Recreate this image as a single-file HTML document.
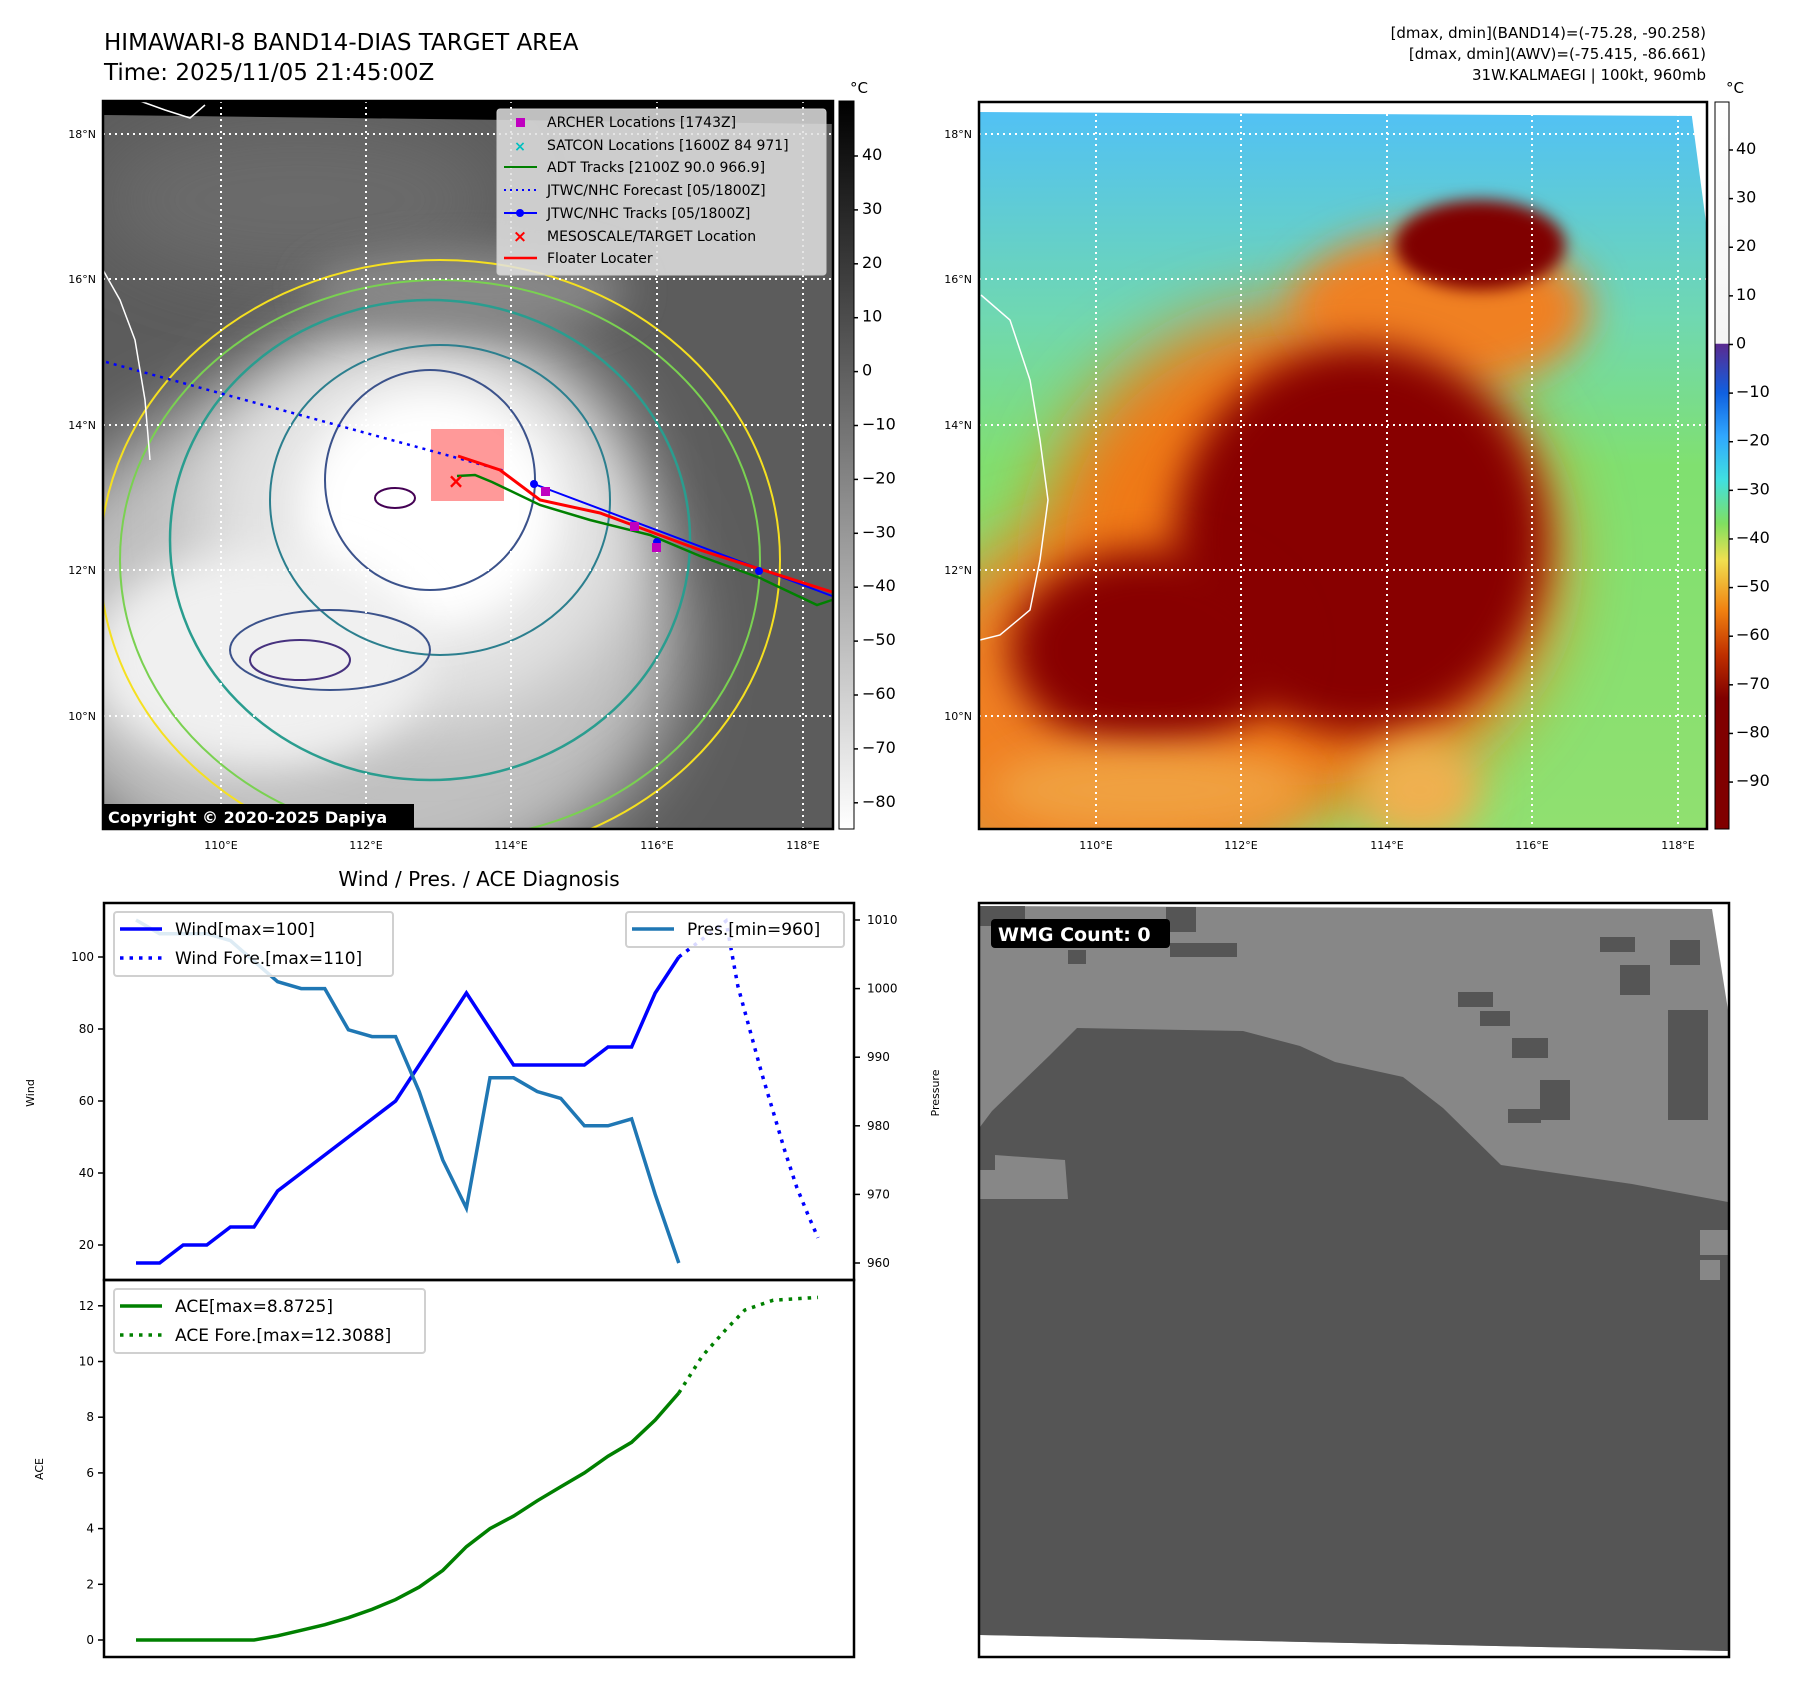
<!DOCTYPE html>
<html><head><meta charset="utf-8"><style>
html,body{margin:0;padding:0;background:#fff;}
svg{display:block;font-family:"DejaVu Sans","Liberation Sans",sans-serif;}
</style></head><body>
<svg id="fig" width="1797" height="1690" viewBox="0 0 1797 1690" xmlns="http://www.w3.org/2000/svg">
<defs>
<filter id="b20" x="-50%" y="-50%" width="200%" height="200%"><feGaussianBlur stdDeviation="20"/></filter>
<filter id="b35" x="-50%" y="-50%" width="200%" height="200%"><feGaussianBlur stdDeviation="35"/></filter>
<filter id="b8" x="-50%" y="-50%" width="200%" height="200%"><feGaussianBlur stdDeviation="8"/></filter>
<clipPath id="cl"><rect x="103" y="101" width="730" height="728"/></clipPath>
<clipPath id="cr"><rect x="979" y="102" width="728" height="727"/></clipPath>
<clipPath id="cw"><rect x="979" y="903" width="750" height="754"/></clipPath>
<linearGradient id="cbl" x1="0" y1="0" x2="0" y2="1"><stop offset="0" stop-color="#000"/><stop offset="1" stop-color="#fff"/></linearGradient>
<linearGradient id="cbr" x1="0" y1="0" x2="0" y2="1">
<stop offset="0" stop-color="#fff"/><stop offset="0.332" stop-color="#f4f4f4"/>
<stop offset="0.333" stop-color="#5a2a90"/><stop offset="0.40" stop-color="#1060e0"/>
<stop offset="0.46" stop-color="#30a8ff"/><stop offset="0.52" stop-color="#40e0e0"/>
<stop offset="0.58" stop-color="#80e060"/><stop offset="0.63" stop-color="#f0e050"/>
<stop offset="0.70" stop-color="#f08010"/><stop offset="0.76" stop-color="#c03000"/>
<stop offset="0.82" stop-color="#800000"/><stop offset="1" stop-color="#800000"/></linearGradient>
<linearGradient id="rbg" x1="0" y1="0" x2="0" y2="1"><stop offset="0" stop-color="#50c0f8"/><stop offset="0.3" stop-color="#70d8b0"/><stop offset="0.5" stop-color="#80e070"/><stop offset="1" stop-color="#90e070"/></linearGradient>
</defs>

<text x="104" y="50" font-size="23">HIMAWARI-8 BAND14-DIAS TARGET AREA</text>
<text x="104" y="80" font-size="23">Time: 2025/11/05 21:45:00Z</text>
<g font-size="15" text-anchor="end">
<text x="1706" y="38">[dmax, dmin](BAND14)=(-75.28, -90.258)</text>
<text x="1706" y="59">[dmax, dmin](AWV)=(-75.415, -86.661)</text>
<text x="1706" y="80">31W.KALMAEGI | 100kt, 960mb</text>
</g>

<!-- LEFT MAP -->
<g clip-path="url(#cl)">
<rect x="103" y="101" width="730" height="728" fill="#5c5c5c"/>
<ellipse cx="300" cy="200" rx="200" ry="80" fill="#6a6a6a" filter="url(#b35)"/>
<ellipse cx="350" cy="640" rx="330" ry="260" fill="#c0c0c0" filter="url(#b35)"/>
<ellipse cx="420" cy="520" rx="220" ry="200" fill="#e4e4e4" filter="url(#b35)"/>
<ellipse cx="430" cy="510" rx="130" ry="120" fill="#fff" filter="url(#b20)"/>
<ellipse cx="260" cy="660" rx="170" ry="110" fill="#f0f0f0" filter="url(#b20)"/>
<ellipse cx="470" cy="290" rx="160" ry="40" fill="#888" filter="url(#b20)"/>
<polygon points="103,101 833,101 833,124 103,115" fill="#000"/>
<g fill="none" stroke-width="2">
<ellipse cx="440" cy="560" rx="340" ry="300" stroke="#f5e020"/>
<ellipse cx="440" cy="560" rx="320" ry="280" stroke="#7ad151"/>
<ellipse cx="430" cy="540" rx="260" ry="240" stroke="#2a9d8f" stroke-width="2.5"/>
<ellipse cx="440" cy="500" rx="170" ry="155" stroke="#2c7f8e"/>
<ellipse cx="430" cy="480" rx="105" ry="110" stroke="#3b528b"/>
<ellipse cx="330" cy="650" rx="100" ry="40" stroke="#3b528b"/>
<ellipse cx="300" cy="660" rx="50" ry="20" stroke="#46317e"/>
<ellipse cx="395" cy="498" rx="20" ry="10" stroke="#440154"/>
</g>
<g stroke="#fff" stroke-width="2" stroke-dasharray="2,4">
<line x1="221" y1="101" x2="221" y2="829"/><line x1="366" y1="101" x2="366" y2="829"/><line x1="511" y1="101" x2="511" y2="829"/><line x1="657" y1="101" x2="657" y2="829"/><line x1="803" y1="101" x2="803" y2="829"/>
<line x1="103" y1="134" x2="833" y2="134"/><line x1="103" y1="279" x2="833" y2="279"/><line x1="103" y1="425" x2="833" y2="425"/><line x1="103" y1="570" x2="833" y2="570"/><line x1="103" y1="716" x2="833" y2="716"/>
</g>
<rect x="431" y="429" width="73" height="72" fill="#ff8080" opacity="0.8"/>
<polyline points="106,362 505,471" fill="none" stroke="#00f" stroke-width="2.5" stroke-dasharray="3,5"/>
<polyline points="457,476 475,475 492,482 540,505 590,520 650,535 700,556 760,578 817,605 832,600" fill="none" stroke="#008000" stroke-width="2.5"/>
<polyline points="534,484 832,596" fill="none" stroke="#00f" stroke-width="2"/>
<polyline points="458,456 500,470 540,500 600,513 700,550 832,592" fill="none" stroke="#f00" stroke-width="3"/>
<circle cx="534" cy="484" r="4" fill="#00f"/><circle cx="657" cy="542" r="4" fill="#00f"/><circle cx="759" cy="571" r="4" fill="#00f"/>
<rect x="541" y="487" width="9" height="9" fill="#c000c0"/><rect x="630" y="522" width="9" height="9" fill="#c000c0"/><rect x="652" y="543" width="9" height="9" fill="#c000c0"/>
<text x="456" y="488" fill="#f00" font-size="20" font-weight="bold" text-anchor="middle">×</text>
<path d="M140,101 L165,110 L190,118 L205,105 M103,270 L120,300 L135,340 L145,400 L150,460" stroke="#fff" stroke-width="1.5" fill="none"/>
</g>
<rect x="103" y="101" width="730" height="728" fill="none" stroke="#000" stroke-width="2.5"/>
<g>
<rect x="497" y="109" width="329" height="166" rx="3" fill="#e0e0e0" fill-opacity="0.85" stroke="#ccc"/>
<rect x="516" y="118" width="9" height="9" fill="#c000c0"/>
<text x="520" y="151" fill="#00c0c0" font-size="14" font-weight="bold" text-anchor="middle">×</text>
<line x1="504" y1="167" x2="537" y2="167" stroke="#008000" stroke-width="2"/>
<line x1="504" y1="190" x2="537" y2="190" stroke="#00f" stroke-width="2" stroke-dasharray="2,4"/>
<line x1="504" y1="213" x2="537" y2="213" stroke="#00f" stroke-width="2"/><circle cx="520" cy="213" r="4" fill="#00f"/>
<text x="520" y="242" fill="#f00" font-size="17" font-weight="bold" text-anchor="middle">×</text>
<line x1="504" y1="258" x2="537" y2="258" stroke="#f00" stroke-width="2.5"/>
<g font-size="14">
<text x="547" y="127">ARCHER Locations [1743Z]</text>
<text x="547" y="150">SATCON Locations [1600Z 84 971]</text>
<text x="547" y="172">ADT Tracks [2100Z 90.0 966.9]</text>
<text x="547" y="195">JTWC/NHC Forecast [05/1800Z]</text>
<text x="547" y="218">JTWC/NHC Tracks [05/1800Z]</text>
<text x="547" y="241">MESOSCALE/TARGET Location</text>
<text x="547" y="263">Floater Locater</text>
</g></g>
<rect x="103" y="804" width="311" height="25" fill="#000"/>
<text x="108" y="823" fill="#fff" font-size="16" font-weight="bold">Copyright © 2020-2025 Dapiya</text>
<g font-size="11" text-anchor="end">
<text x="96" y="138">18°N</text><text x="96" y="283">16°N</text><text x="96" y="429">14°N</text><text x="96" y="574">12°N</text><text x="96" y="720">10°N</text></g>
<g font-size="11" text-anchor="middle">
<text x="221" y="849">110°E</text><text x="366" y="849">112°E</text><text x="511" y="849">114°E</text><text x="657" y="849">116°E</text><text x="803" y="849">118°E</text></g>
<rect x="839" y="101" width="15" height="728" fill="url(#cbl)" stroke="#000"/>
<text x="850" y="93" font-size="15">°C</text>
<g id="cbLticks" font-size="15"></g>

<!-- RIGHT MAP -->
<g clip-path="url(#cr)">
<rect x="979" y="102" width="728" height="727" fill="url(#rbg)"/>
<ellipse cx="1100" cy="720" rx="210" ry="190" fill="#f08020" filter="url(#b35)"/>
<ellipse cx="1300" cy="560" rx="260" ry="250" fill="#f07818" filter="url(#b35)"/>
<ellipse cx="1440" cy="310" rx="150" ry="80" fill="#f08020" filter="url(#b20)"/>
<ellipse cx="1480" cy="245" rx="85" ry="45" fill="#800000" filter="url(#b8)"/>
<ellipse cx="1360" cy="540" rx="185" ry="195" fill="#880000" filter="url(#b20)"/>
<ellipse cx="1150" cy="650" rx="140" ry="100" fill="#880000" filter="url(#b20)"/>
<ellipse cx="1150" cy="790" rx="160" ry="45" fill="#f0a040" filter="url(#b20)"/>
<ellipse cx="1420" cy="790" rx="60" ry="50" fill="#f0b050" filter="url(#b20)"/>
<polygon points="979,102 1707,102 1707,116 979,112" fill="#fff"/>
<polygon points="1690,102 1707,102 1707,230" fill="#fff"/>
<g stroke="#fff" stroke-width="2" stroke-dasharray="2,4">
<line x1="1096" y1="102" x2="1096" y2="829"/><line x1="1241" y1="102" x2="1241" y2="829"/><line x1="1387" y1="102" x2="1387" y2="829"/><line x1="1532" y1="102" x2="1532" y2="829"/><line x1="1678" y1="102" x2="1678" y2="829"/>
<line x1="979" y1="134" x2="1707" y2="134"/><line x1="979" y1="279" x2="1707" y2="279"/><line x1="979" y1="425" x2="1707" y2="425"/><line x1="979" y1="570" x2="1707" y2="570"/><line x1="979" y1="716" x2="1707" y2="716"/>
</g>
<path d="M981,295 L1010,320 L1030,380 L1040,440 L1048,500 L1040,560 L1030,610 L1000,635 L980,640" stroke="#fff" stroke-width="1.5" fill="none"/>
</g>
<rect x="979" y="102" width="728" height="727" fill="none" stroke="#000" stroke-width="2.5"/>
<g font-size="11" text-anchor="end">
<text x="972" y="138">18°N</text><text x="972" y="283">16°N</text><text x="972" y="429">14°N</text><text x="972" y="574">12°N</text><text x="972" y="720">10°N</text></g>
<g font-size="11" text-anchor="middle">
<text x="1096" y="849">110°E</text><text x="1241" y="849">112°E</text><text x="1387" y="849">114°E</text><text x="1532" y="849">116°E</text><text x="1678" y="849">118°E</text></g>
<rect x="1715" y="102" width="14" height="727" fill="url(#cbr)" stroke="#000"/>
<text x="1726" y="93" font-size="15">°C</text>
<g id="cbRticks" font-size="15"></g>

<!-- WMG panel -->
<g clip-path="url(#cw)">
<rect x="979" y="903" width="750" height="754" fill="#fff"/>
<polygon points="980,906 1712,909 1728,1010 1728,1651 980,1635" fill="#878787"/>
<polygon points="980,1127 992,1111 1049,1056 1077,1028 1243,1031 1300,1046 1335,1062 1403,1077 1443,1108 1501,1165 1632,1184 1728,1202 1728,1651 980,1635 980,1199 1068,1199 1065,1160 995,1155 995,1170 980,1170" fill="#555"/>
<rect x="980" y="906" width="45" height="20" fill="#555"/><rect x="1166" y="907" width="30" height="25" fill="#555"/><rect x="1170" y="943" width="67" height="14" fill="#555"/><rect x="1068" y="950" width="18" height="14" fill="#555"/>
<rect x="1458" y="992" width="35" height="15" fill="#555"/><rect x="1480" y="1011" width="30" height="15" fill="#555"/><rect x="1512" y="1038" width="36" height="20" fill="#555"/>
<rect x="1600" y="937" width="35" height="15" fill="#555"/><rect x="1620" y="965" width="30" height="30" fill="#555"/><rect x="1670" y="940" width="30" height="25" fill="#555"/><rect x="1668" y="1010" width="40" height="110" fill="#555"/>
<rect x="1508" y="1109" width="33" height="14" fill="#555"/><rect x="1540" y="1080" width="30" height="40" fill="#555"/>
<rect x="1700" y="1230" width="28" height="25" fill="#878787"/><rect x="1700" y="1260" width="20" height="20" fill="#878787"/>
<rect x="991" y="919" width="179" height="29" rx="4" fill="#000"/>
<text x="998" y="941" fill="#fff" font-size="19" font-weight="bold">WMG Count: 0</text>
</g>
<rect x="979" y="903" width="750" height="754" fill="none" stroke="#000" stroke-width="2.5"/>

<text x="479" y="886" font-size="20" text-anchor="middle">Wind / Pres. / ACE Diagnosis</text>
<g id="chart"></g>
<rect x="104" y="903" width="750" height="377" fill="none" stroke="#000" stroke-width="2.5"/>
<rect x="104" y="1280" width="750" height="377" fill="none" stroke="#000" stroke-width="2.5"/>
<text transform="translate(34,1093) rotate(-90)" font-size="11" text-anchor="middle">Wind</text>
<text transform="translate(43,1469) rotate(-90)" font-size="11" text-anchor="middle">ACE</text>
<text transform="translate(939,1093) rotate(-90)" font-size="11" text-anchor="middle">Pressure</text>
</svg>
<script>
const windIdx = [0,1,2,3,4,5,6,7,8,9,10,11,12,13,14,15,16,17,18,19,20,21,22,23];
const windVals = [15,15,20,20,25,25,35,40,45,50,55,60,70,80,90,80,70,70,70,70,75,75,90,100];
const windForeIdx = [23,25,25.5,26,26.5,27,27.5,28,28.5,28.9];
const windForeVals = [100,110,92,80,68,57,46,36,28,22];
const presVals = [1010,1008,1008,1008,1007,1004,1001,1000,1000,994,993,993,985,975,968,987,987,985,984,980,980,981,970,960];
const aceVals = [0,0,0,0,0,0,0.15,0.35,0.55,0.8,1.1,1.45,1.9,2.5,3.35,4.0,4.45,5.0,5.5,6.0,6.6,7.1,7.9,8.87];
const aceForeIdx = [23,24,25,25.8,27,28.9];
const aceForeVals = [8.87,10.2,11.15,11.85,12.2,12.3];
const windTicks = [20,40,60,80,100];
const presTicks = [960,970,980,990,1000,1010];
const aceTicks = [0,2,4,6,8,10,12];
const cbLeftTicks = [40,30,20,10,0,-10,-20,-30,-40,-50,-60,-70,-80];
const cbRightTicks = [40,30,20,10,0,-10,-20,-30,-40,-50,-60,-70,-80,-90];

const NS='http://www.w3.org/2000/svg';
const xS = i => 136 + i*23.6;
const yW = v => 957 - (v-100)*3.6;
const yP = v => 920 - (v-1010)*6.86;
const yA = v => 1640 - v*27.85;
const yCL = v => 156 - (v-40)*5.39;
const yCR = v => 150 - (v-40)*4.862;
const chart = document.getElementById('chart');
function mk(tag, attrs, parent){const e=document.createElementNS(NS,tag);for(const k in attrs)e.setAttribute(k,attrs[k]);(parent||chart).appendChild(e);return e;}
function pts(xs, ys, fy){return xs.map((x,i)=>xS(x).toFixed(1)+','+fy(ys[i]).toFixed(1)).join(' ');}

let l;
l = mk('polyline',{points:pts(windIdx,windVals,yW),fill:'none',stroke:'#0000ff','stroke-width':3.5});


l = mk('polyline',{points:pts(windForeIdx,windForeVals,yW),fill:'none',stroke:'#0000ff','stroke-width':3.5,'stroke-dasharray':'3.5,6'});


l = mk('polyline',{points:pts(windIdx,presVals,yP),fill:'none',stroke:'#1f77b4','stroke-width':3.5});


l = mk('polyline',{points:pts(windIdx,aceVals,yA),fill:'none',stroke:'#008000','stroke-width':3.5});


l = mk('polyline',{points:pts(aceForeIdx,aceForeVals,yA),fill:'none',stroke:'#008000','stroke-width':3.5,'stroke-dasharray':'3.5,6'});



function tick(x1,x2,y,label,anchor,tx,parent,size){
  mk('line',{x1:x1,x2:x2,y1:y,y2:y,stroke:'#000','stroke-width':1.5},parent);
  const t=mk('text',{x:tx,y:y+4,'font-size':size||12,'text-anchor':anchor},parent);
  t.textContent=label;
  
  
}
windTicks.forEach(v=>tick(98,104,yW(v),v,'end',94));
presTicks.forEach(v=>tick(854,860,yP(v),v,'start',867));
aceTicks.forEach(v=>tick(98,104,yA(v),v,'end',94));
const gL=document.getElementById('cbLticks'), gR=document.getElementById('cbRticks');
cbLeftTicks.forEach(v=>tick(854,858,yCL(v),v<0?'\u2212'+(-v):v,'start',862,gL,16));
cbRightTicks.forEach(v=>tick(1729,1733,yCR(v),v<0?'\u2212'+(-v):v,'start',1736,gR,16));

function legend(x,y,w,h,items,name){
  const g=mk('g',{});
  
  
  mk('rect',{x:x,y:y,width:w,height:h,rx:3,fill:'#fff','fill-opacity':0.85,stroke:'#d0d0d0','stroke-width':2},g);
  items.forEach((it,i)=>{
    const yy=y+17+i*29;
    mk('line',{x1:x+6,x2:x+48,y1:yy,y2:yy,stroke:it[1],'stroke-width':3.5,'stroke-dasharray':it[2]?'3.5,6':'none'},g);
    const t=mk('text',{x:x+61,y:yy+6,'font-size':17},g);
    t.textContent=it[0];
  });
}
legend(114,912,279,64,[['Wind[max=100]','#0000ff',0],['Wind Fore.[max=110]','#0000ff',1]],'wind-legend');
legend(626,912,218,35,[['Pres.[min=960]','#1f77b4',0]],'pressure-legend');
legend(114,1289,311,64,[['ACE[max=8.8725]','#008000',0],['ACE Fore.[max=12.3088]','#008000',1]],'ace-legend');
</script>
</body></html>
